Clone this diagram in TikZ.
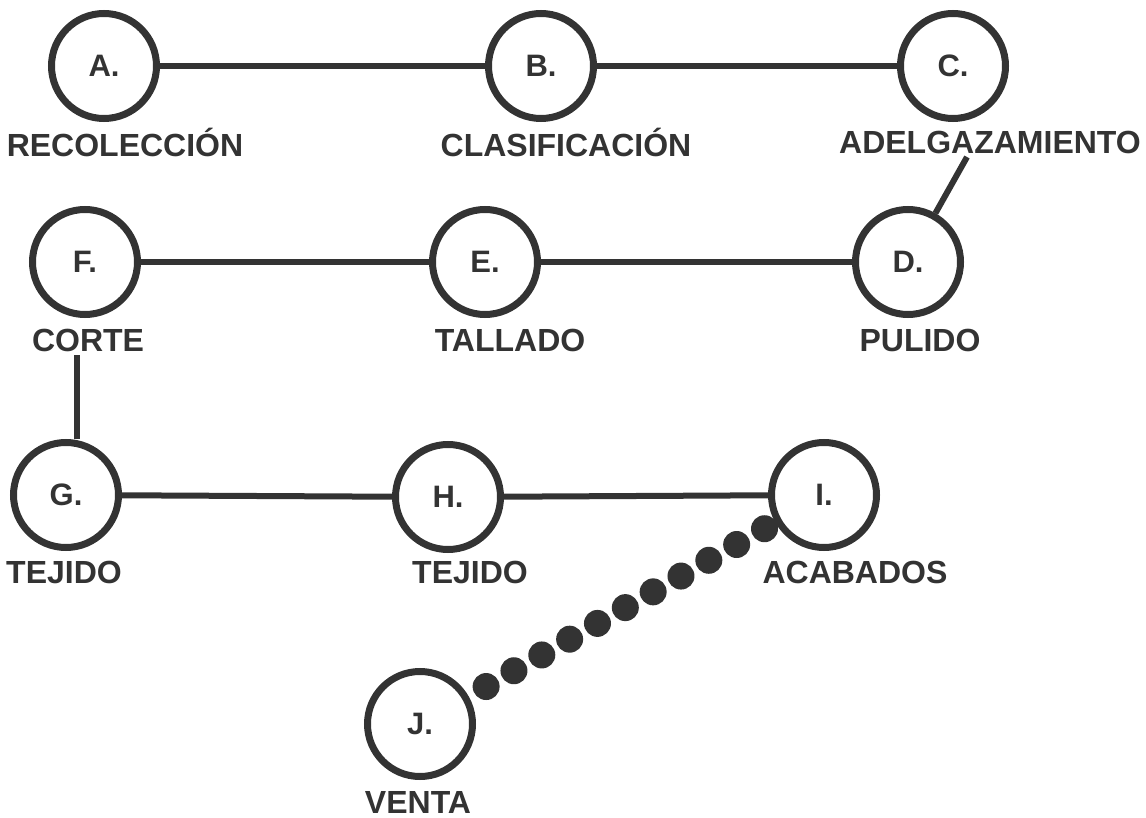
\documentclass[tikz,border=0pt]{standalone}
\usepackage{fontspec}
\setmainfont{Liberation Sans}
\usetikzlibrary{calc}
\definecolor{ink}{HTML}{333333}
\begin{document}
\begin{tikzpicture}[x=1pt,y=-1pt,
  stepnode/.style={circle,draw=ink,line width=7pt,minimum size=105pt,inner sep=0pt,text=ink,font=\fontsize{31}{31}\selectfont\bfseries},
  steplabel/.style={text=ink,inner sep=0pt,font=\fontsize{32}{32}\selectfont\bfseries},
  link/.style={draw=ink,line width=6pt},
  dotlink/.style={draw=ink,line width=27pt,line cap=round,dash pattern=on 0pt off 32pt,shorten <=20pt,shorten >=12pt}]
\useasboundingbox (0,0) rectangle (1146,818);
\node[stepnode] (A) at (104,66) {A.};
\node[stepnode] (B) at (541,66) {B.};
\node[stepnode] (C) at (953,66) {C.};
\node[stepnode] (D) at (908,262) {D.};
\node[stepnode] (E) at (485,262) {E.};
\node[stepnode] (F) at (85,262) {F.};
\node[stepnode] (G) at (66,495) {G.};
\node[stepnode] (H) at (448,497) {H.};
\node[stepnode] (I) at (824,495) {I.};
\node[stepnode] (J) at (420,724) {J.};
\node[steplabel] (Al) at (125,142) {RECOLECCIÓN};
\node[steplabel] (Bl) at (566,142) {CLASIFICACIÓN};
\node[steplabel] (Cl) at (990,142) {ADELGAZAMIENTO};
\node[steplabel] (Fl) at (88,340) {CORTE};
\node[steplabel] (El) at (510,340) {TALLADO};
\node[steplabel] (Dl) at (920,340) {PULIDO};
\node[steplabel] (Gl) at (64,572) {TEJIDO};
\node[steplabel] (Hl) at (470,572) {TEJIDO};
\node[steplabel] (Il) at (855,572) {ACABADOS};
\node[steplabel] (Jl) at (418,802) {VENTA};
\coordinate (c1) at (967,157);
\coordinate (c2) at (77,355);
\draw[link] (A) -- (B);
\draw[link] (B) -- (C);
\draw[link] (c1) -- (D);
\draw[link] (D) -- (E);
\draw[link] (E) -- (F);
\draw[link] (c2) -- (c2 |- G.north);
\draw[link] (G) -- (H);
\draw[link] (H) -- (I);
\draw[dotlink] (J) -- (I);
\end{tikzpicture}
\end{document}
